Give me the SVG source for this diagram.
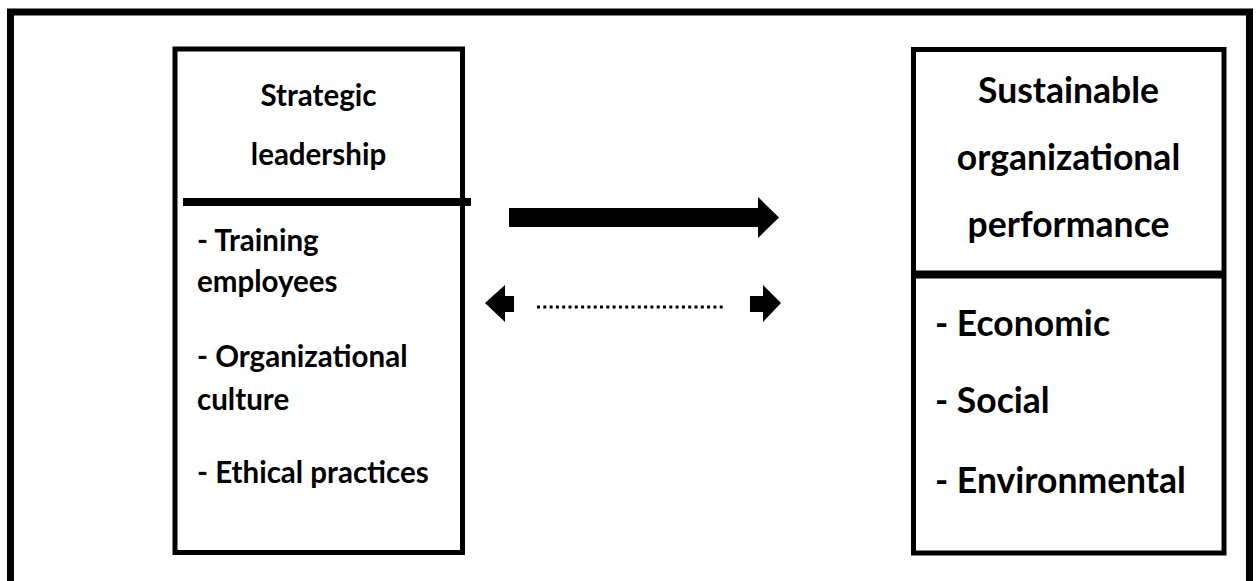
<svg xmlns="http://www.w3.org/2000/svg" width="1257" height="581" viewBox="0 0 1257 581">
<style>
.box{fill:#fff;stroke:#000;stroke-width:5}
.div{stroke:#000;stroke-width:8}
.t{font-family:"Lato","Liberation Sans",sans-serif;font-weight:bold;fill:#000}
.l{font-size:29.5px}
.r{font-size:35.5px}
.c{text-anchor:middle}
.arrow{fill:#000}
</style>
<rect width="1257" height="581" fill="#fff"/>
<rect id="frame" x="10.5" y="12" width="1239" height="600" fill="none" stroke="#000" stroke-width="7"/>
<g id="strategic-leadership">
<rect class="box" x="175" y="49" width="287.5" height="503.5"/>
<line class="div" x1="183" y1="202" x2="471" y2="202"/>
<text class="t l c" x="318.5" y="106">Strategic</text>
<text class="t l c" x="318.5" y="165">leadership</text>
<text class="t l" x="197" y="251">- Training</text>
<text class="t l" x="197" y="292">employees</text>
<text class="t l" x="197" y="367">- Organizational</text>
<text class="t l" x="197" y="410">culture</text>
<text class="t l" x="197" y="483">- Ethical practices</text>
</g>
<g id="sustainable-performance">
<rect class="box" x="913.5" y="49.5" width="310.5" height="503.5"/>
<line class="div" x1="913" y1="274.5" x2="1225" y2="274.5"/>
<text class="t r c" x="1068.5" y="103">Sustainable</text>
<text class="t r c" x="1068.5" y="170">organizational</text>
<text class="t r c" x="1068.5" y="237">performance</text>
<text class="t r" x="935" y="336">- Economic</text>
<text class="t r" x="935" y="413">- Social</text>
<text class="t r" x="935" y="493">- Environmental</text>
</g>
<g id="connectors">
<polygon class="arrow" points="509,208 758,208 758,197 779,217.5 758,238 758,227 509,227"/>
<polygon class="arrow" points="485,303 505,285 505,296 514,296 514,312 505,312 505,322"/>
<polygon class="arrow" points="781,303 763,285 763,296 750,296 750,312 763,312 763,322"/>
<line x1="537" y1="307" x2="723" y2="307" stroke="#000" stroke-width="3" stroke-dasharray="3 3.3"/>
</g>
</svg>
